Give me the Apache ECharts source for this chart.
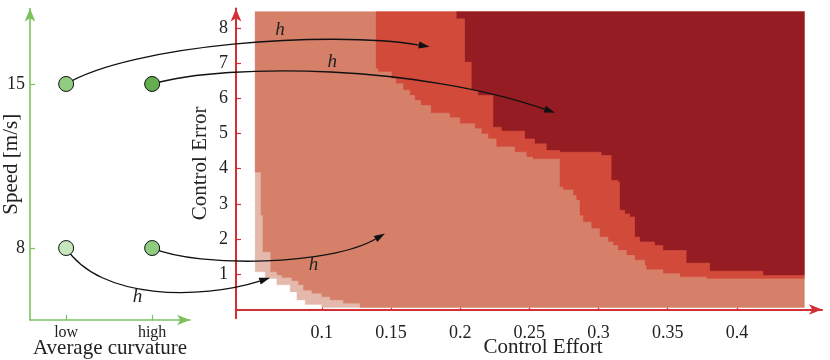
<!DOCTYPE html>
<html>
<head>
<meta charset="utf-8">
<script src="https://cdn.jsdelivr.net/npm/echarts@6/dist/echarts.min.js"></script>
<style>
html, body { margin: 0; padding: 0; background: #fff; }
#chart { width: 830px; height: 360px; }
</style>
</head>
<body>
<div id="chart"></div>
<script>
// left panel: scenarios
const curvatureLabels = ["low", "high"];
const speedTicks = [8, 15];
const pointCurv = [1, 2, 1, 2];
const pointSpeed = [15, 15, 8, 8];

// right panel: regions, each is "above a step curve" (x = step start, y = lower edge)
const effortTicks = [0.1, 0.15, 0.2, 0.25, 0.3, 0.35, 0.4];
const errorTicks = [1, 2, 3, 4, 5, 6, 7, 8];
const boxX = [0.0518, 0.4487];
const boxY = [0.06, 8.46];

const lightX = [0.0518, 0.0591, 0.0675, 0.0771, 0.0820, 0.0880, 0.1000];
const lightY = [1.07, 0.88, 0.70, 0.50, 0.27, 0.14, 0.06];

const salmonX = [0.0518, 0.0560, 0.0574, 0.0630, 0.0676, 0.0711, 0.0784, 0.0831, 0.0867, 0.0928, 0.1000, 0.1060, 0.1156, 0.1276];
const salmonY = [3.90, 2.68, 1.64, 1.07, 0.98, 0.91, 0.82, 0.70, 0.55, 0.46, 0.36, 0.27, 0.18, 0.06];

const mediumX = [0.1392, 0.1409, 0.1506, 0.1537, 0.1590, 0.1638, 0.1674, 0.1718, 0.1790, 0.1927, 0.2000, 0.2108,
    0.2156, 0.2204, 0.2264, 0.2397, 0.2481, 0.2527, 0.2721, 0.2745, 0.2818, 0.2842, 0.2866, 0.2890, 0.2950, 0.3010,
    0.3071, 0.3107, 0.3143, 0.3204, 0.3264, 0.3336, 0.3348, 0.3468, 0.3589, 0.3782];
const mediumY = [6.85, 6.76, 6.57, 6.43, 6.24, 6.09, 5.95, 5.81, 5.59, 5.46, 5.29, 5.15,
    5.00, 4.86, 4.63, 4.48, 4.34, 4.28, 3.49, 3.41, 3.25, 3.11, 2.68, 2.49, 2.31, 2.07,
    1.93, 1.83, 1.69, 1.55, 1.41, 1.26, 1.14, 1.03, 0.93, 0.88];

const darkX = [0.1975, 0.2035, 0.2084, 0.2132, 0.2240, 0.2301, 0.2469, 0.2541, 0.2626, 0.2722, 0.3023, 0.3095,
    0.3143, 0.3155, 0.3192, 0.3228, 0.3264, 0.3300, 0.3408, 0.3468, 0.3637, 0.3806, 0.4191];
const darkY = [8.27, 7.04, 6.24, 6.09, 5.19, 5.08, 4.86, 4.72, 4.53, 4.48, 4.39, 3.68,
    3.63, 2.83, 2.73, 2.64, 2.07, 1.93, 1.83, 1.69, 1.33, 1.10, 0.98];

// arrows: from scenario point -> target in right panel
const arrowFrom = [0, 1, 3, 2];
const arrowTo = [[0.178, 7.46], [0.2685, 5.59], [0.1457, 2.16], [0.0627, 0.90]];

const regions = [
    {x: lightX, y: lightY, color: "#e4b9ac"},
    {x: salmonX, y: salmonY, color: "#d6806a"},
    {x: mediumX, y: mediumY, color: "#d24a3a"},
    {x: darkX, y: darkY, color: "#951c23"},
];
const pointColors = ["#8fcc80", "#62ae4e", "#c6e6bb", "#8fcc80"];
const bend1 = [[64, -39], [78, -22], [48, 20], [34, 52]];
const bend2 = [[-100, -17], [-135, -47], [-55, 32], [-70, 22]];
const labelT = [0.6, 0.5, 0.7, 0.4];
const labelOff = [[3, -11], [0, -10], [-6, 11], [5, 10]];

const green = "#7ac25e";
const red = "#d22f36";
const serif = "Liberation Serif";

function regionPolygon(params, api) {
    const r = regions[params.dataIndex];
    const pts = [[r.x[0], boxY[1]]];
    for (let i = 0; i < r.x.length; i++) {
        const next = i + 1 < r.x.length ? r.x[i + 1] : boxX[1];
        pts.push([r.x[i], r.y[i]]);
        pts.push([next, r.y[i]]);
    }
    pts.push([boxX[1], boxY[1]]);
    return {
        type: "polygon",
        shape: {points: pts.map(p => api.coord(p))},
        style: {fill: r.color, stroke: r.color, lineWidth: 0.3},
    };
}

function axisCommon(color, width) {
    return {
        axisLine: {show: true, symbol: ["none", "arrow"], symbolSize: [8, 13], lineStyle: {color: color, width: width}},
        splitLine: {show: false},
        nameLocation: "middle",
        nameMoveOverlap: false,
        nameTextStyle: {fontFamily: serif, fontSize: 21, color: "#222"},
    };
}

const chart = echarts.init(document.getElementById("chart"));

const option = {
    animation: false,
    grid: [
        {left: 30, right: 640, top: 8.5, bottom: 40, outerBoundsMode: "none", containLabel: false},
        {left: 236, right: 8, top: 8.5, bottom: 41.7, outerBoundsMode: "none", containLabel: false},
    ],
    xAxis: [
        Object.assign(axisCommon(green, 1.6), {
            type: "value", gridIndex: 0, min: 0.58, max: 2.44,
            name: "Average curvature", nameGap: 18,
            axisTick: {show: true, inside: true, length: 5, customValues: [1, 2], lineStyle: {color: green, width: 1.2}},
            axisLabel: {customValues: [1, 2], formatter: v => curvatureLabels[v - 1],
                fontFamily: serif, fontSize: 16, color: "#222", margin: 5},
        }),
        Object.assign(axisCommon(red, 2), {
            type: "value", gridIndex: 1, min: 0.038, max: 0.4615,
            name: "Control Effort", nameGap: 19,
            nameTextStyle: {fontFamily: serif, fontSize: 21, color: "#222", padding: [0, 0, 0, 28]},
            axisTick: {show: true, inside: true, length: 5, customValues: effortTicks, lineStyle: {color: red, width: 1.2}},
            axisLabel: {customValues: effortTicks, formatter: v => String(v),
                fontFamily: serif, fontSize: 18, color: "#222", margin: 6},
        }),
    ],
    yAxis: [
        Object.assign(axisCommon(green, 1.6), {
            type: "value", gridIndex: 0, min: 4.93, max: 18.22,
            name: "Speed [m/s]", nameGap: 8,
            axisTick: {show: true, inside: true, length: 5, customValues: speedTicks, lineStyle: {color: green, width: 1.2}},
            axisLabel: {customValues: speedTicks, fontFamily: serif, fontSize: 18, color: "#222", margin: 5},
        }),
        Object.assign(axisCommon(red, 2), {
            type: "value", gridIndex: 1, min: -0.25, max: 8.55,
            name: "Control Error", nameGap: 25,
            axisTick: {show: true, inside: true, length: 5, customValues: errorTicks, lineStyle: {color: red, width: 1.2}},
            axisLabel: {customValues: errorTicks, fontFamily: serif, fontSize: 18, color: "#222", margin: 8},
        }),
    ],
    series: [
        {
            type: "custom",
            xAxisIndex: 1,
            yAxisIndex: 1,
            renderItem: regionPolygon,
            encode: {x: 0, y: 1},
            data: regions.map((r, i) => [0.25, 4, i]),
            z: 2,
        },
        {
            type: "scatter",
            xAxisIndex: 0,
            yAxisIndex: 0,
            symbolSize: 15,
            itemStyle: {borderColor: "#111", borderWidth: 1, opacity: 1},
            data: pointCurv.map((c, i) => ({value: [c, pointSpeed[i]], itemStyle: {color: pointColors[i]}})),
            z: 10,
        },
    ],
};
chart.setOption(option);

function bezierPoint(p0, c1, c2, p3, t) {
    const a = (1 - t) ** 3, b = 3 * (1 - t) ** 2 * t, c = 3 * (1 - t) * t * t, d = t ** 3;
    return [a * p0[0] + b * c1[0] + c * c2[0] + d * p3[0], a * p0[1] + b * c1[1] + c * c2[1] + d * p3[1]];
}

const graphics = [];
arrowFrom.forEach((pi, i) => {
    const p0 = chart.convertToPixel({gridIndex: 0}, [pointCurv[pi], pointSpeed[pi]]);
    const p3 = chart.convertToPixel({gridIndex: 1}, arrowTo[i]);
    const c1 = [p0[0] + bend1[i][0], p0[1] + bend1[i][1]];
    const c2 = [p3[0] + bend2[i][0], p3[1] + bend2[i][1]];
    const dx = p3[0] - c2[0], dy = p3[1] - c2[1];
    const len = Math.hypot(dx, dy);
    const ux = dx / len, uy = dy / len;
    const base = [p3[0] - ux * 11, p3[1] - uy * 11];
    graphics.push({
        type: "bezierCurve", z: 5,
        shape: {x1: p0[0], y1: p0[1], cpx1: c1[0], cpy1: c1[1], cpx2: c2[0], cpy2: c2[1], x2: base[0], y2: base[1]},
        style: {stroke: "#111", lineWidth: 1.3, fill: "none"},
    });
    graphics.push({
        type: "polygon", z: 5,
        shape: {points: [p3, [base[0] - uy * 3.5, base[1] + ux * 3.5], [base[0] + uy * 3.5, base[1] - ux * 3.5]]},
        style: {fill: "#111"},
    });
    const lp = bezierPoint(p0, c1, c2, p3, labelT[i]);
    graphics.push({
        type: "text", z: 5,
        x: lp[0] + labelOff[i][0], y: lp[1] + labelOff[i][1],
        style: {text: "h", fontFamily: serif, fontStyle: "italic", fontSize: 19, fill: "#222",
            align: "center", verticalAlign: "middle"},
    });
});
chart.setOption({graphic: graphics});
</script>
</body>
</html>
